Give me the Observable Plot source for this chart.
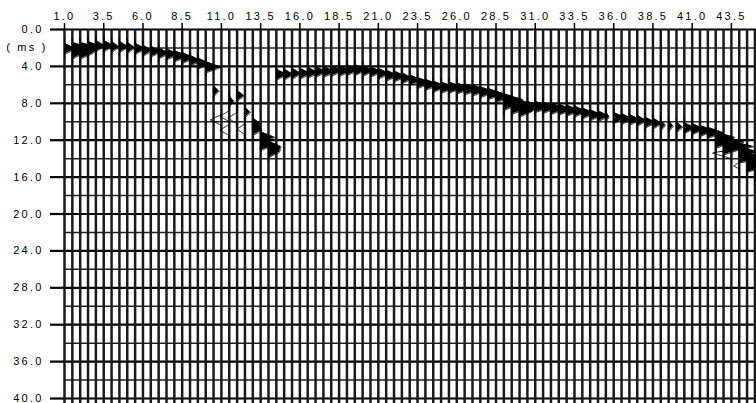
<!DOCTYPE html>
<html><head><meta charset="utf-8">
<script src="https://cdn.jsdelivr.net/npm/d3@7"></script>
<script src="https://cdn.jsdelivr.net/npm/@observablehq/plot@0.6"></script>
<style>
html,body{margin:0;padding:0;background:#fff;}
svg{display:block}
svg text{letter-spacing:2.2px}
</style></head><body><div id="chart"></div>
<script>
// Trace positions (offset units) and axis labels
const traceOffsets = d3.range(1.0, 45.01, 0.5);
const xTickLabels = [1.0, 3.5, 6.0, 8.5, 11.0, 13.5, 16.0, 18.5, 21.0, 23.5, 26.0, 28.5, 31.0, 33.5, 36.0, 38.5, 41.0, 43.5];
const yTickLabels = [0, 4, 8, 12, 16, 20, 24, 28, 32, 36, 40];
const yMinorLines = [2, 6, 10, 14, 18, 22, 26, 30, 34, 38];
const yUnitLabel = "( ms )";

// Picked reflection: shallow segment (traces 1.0 - 10.0)
const pickTracesA = [1.0, 1.5, 2.0, 2.5, 3.0, 3.5, 4.0, 4.5, 5.0, 5.5, 6.0, 6.5, 7.0, 7.5, 8.0, 8.5, 9.0, 9.5, 10.0, 1.5, 2.0];
const pickTimesA  = [2.1, 2.0, 2.0, 1.9, 1.8, 1.8, 1.9, 1.9, 2.0, 2.1, 2.3, 2.4, 2.6, 2.7, 2.9, 3.1, 3.4, 3.7, 4.1, 2.6, 2.6];
const pickAmpsA   = [0.7, 1.1, 1.2, 0.9, 0.6, 0.7, 0.5, 0.6, 0.5, 0.7, 0.6, 0.7, 0.7, 0.8, 0.9, 0.8, 0.7, 0.8, 1.0, 0.7, 0.8];

// Disturbed zone (traces 10.5 - 14.0), negative amplitudes drawn as open wiggles
const pickTracesB = [10.5, 11.0, 11.5, 11.5, 11.5, 12.0, 12.0, 12.5, 12.5, 13.0, 13.0, 13.5, 13.5, 14.0, 14.0];
const pickTimesB  = [6.7, 9.8, 7.8, 9.4, 10.9, 7.2, 9.6, 9.0, 10.8, 10.2, 10.9, 11.7, 12.5, 12.7, 13.3];
const pickAmpsB   = [0.35, -0.7, 0.3, -0.6, -0.6, 0.45, -0.6, 0.35, -0.5, 0.5, 0.6, 0.9, 1.0, 0.8, 0.7];

// Deep segment (traces 14.5 - 45.0)
const pickTracesC = [14.5, 15.0, 15.5, 16.0, 16.5, 17.0, 17.5, 18.0, 18.5, 19.0, 19.5, 20.0, 20.5, 21.0, 21.5, 22.0, 22.5, 23.0, 23.5, 24.0, 24.5, 25.0, 25.5, 26.0, 26.5, 27.0, 27.5, 28.0, 28.5, 29.0, 29.5, 30.0, 30.5, 31.0, 31.5, 32.0, 32.5, 33.0, 33.5, 34.0, 34.5, 35.0, 35.5, 36.0, 36.5, 37.0, 37.5, 38.0, 38.5, 39.0, 39.5, 40.0, 40.5, 41.0, 41.5, 42.0, 42.5, 43.0, 43.5, 44.0, 44.5, 45.0, 43.5, 44.0, 42.5, 43.0, 44.0, 44.5, 45.0, 29.0, 29.5, 30.0];
const pickTimesC  = [4.9, 4.9, 4.8, 4.8, 4.7, 4.6, 4.6, 4.5, 4.5, 4.4, 4.4, 4.5, 4.6, 4.8, 5.0, 5.1, 5.3, 5.5, 5.8, 6.0, 6.2, 6.3, 6.3, 6.4, 6.5, 6.6, 6.8, 7.0, 7.3, 7.6, 8.0, 8.3, 8.4, 8.4, 8.5, 8.6, 8.7, 8.8, 8.9, 9.1, 9.3, 9.4, 9.5, 9.6, 9.7, 9.8, 9.9, 10.1, 10.2, 10.4, 10.5, 10.6, 10.7, 10.8, 11.0, 11.2, 11.7, 12.2, 12.7, 13.3, 14.0, 15.0, 13.4, 14.5, 12.3, 13.0, 14.2, 14.9, 15.8, 8.2, 8.6, 8.9];
const pickAmpsC   = [0.7, 0.6, 0.6, 0.7, 0.7, 0.7, 0.8, 0.7, 0.8, 0.8, 0.8, 0.7, 0.7, 0.7, 0.8, 0.8, 0.7, 0.8, 0.9, 0.9, 0.9, 1.0, 1.0, 1.0, 1.0, 1.0, 0.9, 1.0, 1.1, 1.2, 1.2, 1.1, 1.0, 1.1, 0.9, 1.0, 0.9, 0.9, 0.8, 0.8, 0.8, 0.7, 0.2, 0.8, 0.7, 0.7, 0.6, 0.7, 0.6, 0.3, 0.3, 0.4, 0.7, 0.8, 0.9, 1.0, 1.2, 1.3, 1.4, 1.3, 1.3, 1.2, -1.2, -0.7, 0.9, 1.1, 1.2, 1.1, 1.0, 0.8, 0.9, 0.8];

// ---- build the wiggle table from the picks ----
const halfWidth = 0.6; // ms, half length of each wavelet lobe
const events = [];
[[pickTracesA, pickTimesA, pickAmpsA], [pickTracesB, pickTimesB, pickAmpsB], [pickTracesC, pickTimesC, pickAmpsC]]
  .forEach(([tr, tm, am]) => tr.forEach((t, i) => events.push({trace: t, time: tm[i], amp: am[i]})));
const lobe = tau => Math.max(0, 1 - Math.abs(tau) / halfWidth);
const samples = [];
for (const [tr, evs] of d3.group(events, d => d.trace)) {
  const t0 = d3.min(evs, e => e.time) - 1, t1 = d3.max(evs, e => e.time) + 1;
  for (let k = 0; t0 + k * 0.02 <= t1; k++) {
    const t = t0 + k * 0.02;
    const v = d3.sum(evs, e => e.amp * lobe(t - e.time));
    samples.push({trace: tr, t, base: tr, pos: tr + Math.max(0, v), wig: tr + v});
  }
}

const chart = Plot.plot({
  width: 756, height: 403,
  marginLeft: 64, marginRight: 0, marginTop: 29, marginBottom: 0,
  style: {fontFamily: "'Liberation Sans', Arial, sans-serif", fontSize: "11px", color: "#000", background: "#fff"},
  x: {domain: [1, 45.1], axis: null, label: null},
  y: {domain: [0, 40.54], reverse: true, axis: null, label: null},
  marks: [
    Plot.ruleY(yMinorLines, {stroke: "#222", strokeWidth: 1.5}),
    Plot.ruleY(yTickLabels, {stroke: "#000", strokeWidth: 2.2}),
    Plot.ruleX(traceOffsets, {stroke: "#1a1a1a", strokeWidth: 2.5}),
    Plot.areaX(samples, {y: "t", x1: "base", x2: "pos", z: "trace", fill: "#000", curve: "linear"}),
    Plot.lineX(samples, {y: "t", x: "wig", z: "trace", stroke: "#000", strokeWidth: 1, curve: "linear"}),
    Plot.axisX({anchor: "top", ticks: xTickLabels, tickSize: 7, tickPadding: 3, strokeWidth: 1.5, label: null, tickFormat: d => d.toFixed(1), fontSize: 11}),
    Plot.axisY({anchor: "left", ticks: yTickLabels, tickSize: 14, tickPadding: 7, strokeWidth: 2.2, label: null, tickFormat: d => d.toFixed(1), fontSize: 11}),
    Plot.text([yUnitLabel], {x: 1, y: 2, dx: -17, textAnchor: "end", fontSize: 11})
  ]
});
document.getElementById("chart").appendChild(chart);
</script>
</body></html>
